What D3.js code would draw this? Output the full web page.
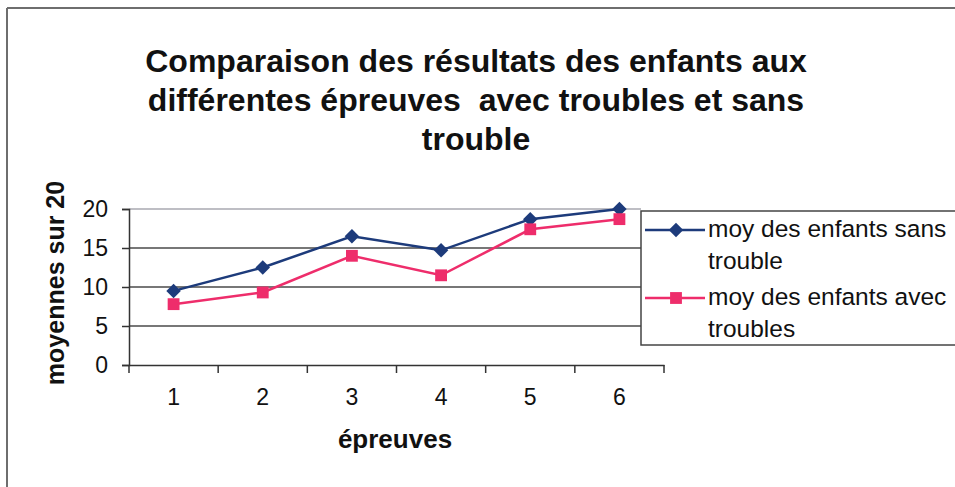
<!DOCTYPE html>
<html>
<head>
<meta charset="utf-8">
<script src="https://cdn.jsdelivr.net/npm/d3@7"></script>
<style>
  body { margin: 0; background: #fff; }
  svg { font-family: Arial, "Liberation Sans", sans-serif; }
</style>
</head>
<body>
<div id="chart"></div>
<script>

var categories = ['1', '2', '3', '4', '5', '6'];
var sansTrouble = [9.5, 12.5, 16.5, 14.7, 18.7, 20.0];
var avecTroubles = [7.8, 9.3, 14.0, 11.5, 17.4, 18.7];
var yTicks = [0, 5, 10, 15, 20];
var titleLines = ['Comparaison des résultats des enfants aux', 'différentes épreuves  avec troubles et sans', 'trouble'];
var legendLabels = [['moy des enfants sans', 'trouble'], ['moy des enfants avec', 'troubles']];

var width = 955;
var height = 487;
var blue = '#1d3b7b';
var pink = '#ee2d6b';

var svg = d3.select('#chart')
  .append('svg')
  .attr('width', width)
  .attr('height', height);

// outer frame (only top and left edges visible)
svg.append('line').attr('x1', 7).attr('y1', 8).attr('x2', width).attr('y2', 8)
  .attr('stroke', '#6e6e6e').attr('stroke-width', 2);
svg.append('line').attr('x1', 7).attr('y1', 8).attr('x2', 7).attr('y2', height)
  .attr('stroke', '#6e6e6e').attr('stroke-width', 2);

// title
svg.append('text')
  .attr('text-anchor', 'middle')
  .attr('font-weight', 'bold')
  .attr('font-size', 32)
  .attr('fill', '#111')
  .style('white-space', 'pre')
  .selectAll('tspan')
  .data(titleLines)
  .enter()
  .append('tspan')
  .attr('x', 476)
  .attr('y', (d, i) => 72 + i * 39)
  .text(d => d);

var xScale = d3.scaleBand()
  .domain(categories)
  .range([129, 664]);

var yScale = d3.scaleLinear()
  .domain([0, 20])
  .range([365, 209]);

var gridRight = 641;

// gridlines
svg.selectAll('.grid')
  .data(yTicks.filter(d => d > 0))
  .enter()
  .append('line')
  .attr('class', 'grid')
  .attr('x1', 129)
  .attr('x2', gridRight)
  .attr('y1', d => yScale(d))
  .attr('y2', d => yScale(d))
  .attr('stroke', d => d == 20 ? '#a9a9b0' : '#4a4a4a')
  .attr('stroke-width', 1.5);

var xAxis = svg.append('g')
  .attr('transform', 'translate(0,' + yScale(0) + ')')
  .call(d3.axisBottom(xScale).tickSize(0).tickPadding(24));

xAxis.select('.domain').attr('stroke', '#333').attr('stroke-width', 1.5);
xAxis.selectAll('text').attr('font-size', 23).attr('font-family', 'Arial, "Liberation Sans", sans-serif').attr('fill', '#111');

// category separators on x axis
svg.selectAll('.xtick')
  .data(d3.range(categories.length + 1))
  .enter()
  .append('line')
  .attr('class', 'xtick')
  .attr('x1', d => xScale.range()[0] + d * xScale.bandwidth())
  .attr('x2', d => xScale.range()[0] + d * xScale.bandwidth())
  .attr('y1', yScale(0))
  .attr('y2', yScale(0) + 8)
  .attr('stroke', '#333')
  .attr('stroke-width', 1.5);

var yAxis = svg.append('g')
  .attr('transform', 'translate(129,0)')
  .call(d3.axisLeft(yScale).tickValues(yTicks).tickSize(7).tickPadding(14));

yAxis.select('.domain').attr('stroke', '#333').attr('stroke-width', 1.5);
yAxis.selectAll('line').attr('stroke', '#333').attr('stroke-width', 1.5);
yAxis.selectAll('text').attr('font-size', 23).attr('font-family', 'Arial, "Liberation Sans", sans-serif').attr('fill', '#111');

// axis titles
svg.append('text')
  .attr('x', 395)
  .attr('y', 448)
  .attr('text-anchor', 'middle')
  .attr('font-weight', 'bold')
  .attr('font-size', 26)
  .attr('fill', '#111')
  .text('épreuves');

svg.append('text')
  .attr('transform', 'translate(64,283) rotate(-90)')
  .attr('text-anchor', 'middle')
  .attr('font-weight', 'bold')
  .attr('font-size', 25)
  .attr('fill', '#111')
  .text('moyennes sur 20');

var line = d3.line()
  .x((d, i) => xScale(categories[i]) + xScale.bandwidth() / 2)
  .y(d => yScale(d));

var series = [
  {values: sansTrouble, color: blue, shape: d3.symbolSquare, size: 105, rotate: 45},
  {values: avecTroubles, color: pink, shape: d3.symbolSquare, size: 140, rotate: 0}
];

series.forEach(function(s) {
  svg.append('path')
    .datum(s.values)
    .attr('d', line)
    .attr('fill', 'none')
    .attr('stroke', s.color)
    .attr('stroke-width', 2.5);
});

series.forEach(function(s) {
  svg.selectAll(null)
    .data(s.values)
    .enter()
    .append('path')
    .attr('d', d3.symbol().type(s.shape).size(s.size))
    .attr('transform', (d, i) => 'translate(' + (xScale(categories[i]) + xScale.bandwidth() / 2) + ',' + yScale(d) + ') rotate(' + s.rotate + ')')
    .attr('fill', s.color);
});

// legend
var legend = svg.append('g');

legend.append('rect')
  .attr('x', 641)
  .attr('y', 211)
  .attr('width', 330)
  .attr('height', 134)
  .attr('fill', '#fff')
  .attr('stroke', '#444')
  .attr('stroke-width', 1.5);

var legendY = [230, 298];

series.forEach(function(s, i) {
  legend.append('line')
    .attr('x1', 645)
    .attr('x2', 705)
    .attr('y1', legendY[i])
    .attr('y2', legendY[i])
    .attr('stroke', s.color)
    .attr('stroke-width', 2.5);

  legend.append('path')
    .attr('d', d3.symbol().type(s.shape).size(s.size))
    .attr('transform', 'translate(676,' + legendY[i] + ') rotate(' + s.rotate + ')')
    .attr('fill', s.color);

  legend.append('text')
    .attr('font-size', 24.5)
    .attr('fill', '#111')
    .selectAll('tspan')
    .data(legendLabels[i])
    .enter()
    .append('tspan')
    .attr('x', 708)
    .attr('y', (d, j) => legendY[i] + 7 + j * 32)
    .text(d => d);
});

</script>
</body>
</html>
